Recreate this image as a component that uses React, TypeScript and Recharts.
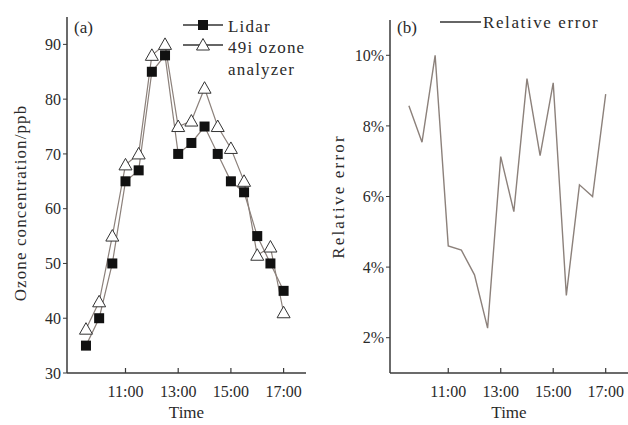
import React from 'react';
import { LineChart, Line, XAxis, YAxis } from 'recharts';

// half-hourly samples, 9:30 to 17:00
const hours = [9.5, 10, 10.5, 11, 11.5, 12, 12.5, 13, 13.5, 14, 14.5, 15, 15.5, 16, 16.5, 17];
const lidar = [35, 40, 50, 65, 67, 85, 88, 70, 72, 75, 70, 65, 63, 55, 50, 45];
const analyzer = [38, 43, 55, 68, 70, 88, 90, 75, 76, 82, 75, 71, 65, 51.5, 53, 41];
const relError = [8.57, 7.54, 10.0, 4.6, 4.48, 3.78, 2.27, 7.13, 5.57, 9.34, 7.16, 9.22, 3.2, 6.33, 6.0, 8.9];

const timeTicks = [11, 13, 15, 17];
const ozoneTicks = [30, 40, 50, 60, 70, 80, 90];
const errorTicks = [2, 4, 6, 8, 10];

const ozoneData = hours.map((h, i) => ({ h, lidar: lidar[i], analyzer: analyzer[i] }));
const errorData = hours.map((h, i) => ({ h, err: relError[i] }));

const FONT = '"Liberation Serif", "Times New Roman", serif';
const TEXT = '#2a2a2a';
const AXIS = '#3a3a3a';
const LINE = '#8c817b';
const X_DOMAIN: [number, number] = [8.78, 17.85];

const TimeTick = (props: any) => {
    const { x, y, payload } = props;
    return (
        <g>
            <line x1={x} y1={y} x2={x} y2={y - 5} stroke={AXIS} strokeWidth={1.2} />
            <text x={x} y={y + 24} textAnchor="middle" fontSize={16} fill={TEXT} fontFamily={FONT}>
                {`${payload.value}:00`}
            </text>
        </g>
    );
};

const yTitle = (text: string, x: number, dy: number, spacing: number) => (props: any) => {
    const vb = props.viewBox;
    const cy = vb.y + vb.height / 2 + dy;
    return (
        <text
            x={x}
            y={cy}
            transform={`rotate(-90, ${x}, ${cy})`}
            textAnchor="middle"
            dominantBaseline="central"
            fontSize={17}
            letterSpacing={spacing}
            fill={TEXT}
            fontFamily={FONT}
        >
            {text}
        </text>
    );
};

const xTitle = (props: any) => {
    const vb = props.viewBox;
    return (
        <text x={vb.x + vb.width / 2} y={418} textAnchor="middle" fontSize={17} fill={TEXT} fontFamily={FONT}>
            Time
        </text>
    );
};

const SquareDot = (props: any) => {
    const { cx, cy, index } = props;
    return <rect key={`sq-${index}`} x={cx - 5} y={cy - 5} width={10} height={10} fill="#111" />;
};

const TriangleDot = (props: any) => {
    const { cx, cy, index } = props;
    return (
        <polygon
            key={`tri-${index}`}
            points={`${cx},${cy - 6.5} ${cx + 6.5},${cy + 5} ${cx - 6.5},${cy + 5}`}
            fill="#fff"
            stroke="#333"
            strokeWidth={1}
        />
    );
};

const tickStyle = { fontSize: 16, fill: TEXT, fontFamily: FONT };

const App: React.FC = () => {
    return (
        <div style={{ position: 'absolute', left: 0, top: 0, width: 628, height: 425, background: '#fff' }}>
            <div style={{ position: 'absolute', left: 0, top: 0 }}>
                <LineChart width={320} height={425} data={ozoneData} margin={{ top: 17, right: 14, bottom: 0, left: 0 }}>
                    <XAxis
                        dataKey="h"
                        type="number"
                        domain={X_DOMAIN}
                        ticks={timeTicks}
                        height={52}
                        tickSize={0}
                        tickMargin={0}
                        tickLine={false}
                        tick={<TimeTick />}
                        axisLine={{ stroke: AXIS, strokeWidth: 1.5 }}
                        label={xTitle}
                    />
                    <YAxis
                        width={67}
                        domain={[30, 95]}
                        ticks={ozoneTicks}
                        tickSize={4}
                        tickMargin={2}
                        tick={tickStyle}
                        tickLine={{ stroke: AXIS }}
                        axisLine={{ stroke: AXIS, strokeWidth: 1.5 }}
                        label={yTitle('Ozone concentration/ppb', 20, 8, 1.1)}
                    />
                    <Line
                        dataKey="analyzer"
                        stroke={LINE}
                        strokeWidth={1.2}
                        dot={TriangleDot}
                        activeDot={false}
                        isAnimationActive={false}
                    />
                    <Line
                        dataKey="lidar"
                        stroke={LINE}
                        strokeWidth={1.2}
                        dot={SquareDot}
                        activeDot={false}
                        isAnimationActive={false}
                    />
                </LineChart>
            </div>
            <div style={{ position: 'absolute', left: 320, top: 0 }}>
                <LineChart width={308} height={425} data={errorData} margin={{ top: 20, right: 0, bottom: 0, left: 0 }}>
                    <XAxis
                        dataKey="h"
                        type="number"
                        domain={X_DOMAIN}
                        ticks={timeTicks}
                        height={52}
                        tickSize={0}
                        tickMargin={0}
                        tickLine={false}
                        tick={<TimeTick />}
                        axisLine={{ stroke: AXIS, strokeWidth: 1.5 }}
                        label={xTitle}
                    />
                    <YAxis
                        width={70}
                        domain={[1, 11]}
                        ticks={errorTicks}
                        tickFormatter={(v) => `${v}%`}
                        tickSize={4}
                        tickMargin={2}
                        tick={tickStyle}
                        tickLine={{ stroke: AXIS }}
                        axisLine={{ stroke: AXIS, strokeWidth: 1.5 }}
                        label={yTitle('Relative error', 18, 0, 2.2)}
                    />
                    <Line
                        dataKey="err"
                        stroke={LINE}
                        strokeWidth={1.4}
                        dot={false}
                        activeDot={false}
                        isAnimationActive={false}
                    />
                </LineChart>
            </div>
            <svg
                width={628}
                height={90}
                style={{ position: 'absolute', left: 0, top: 0, pointerEvents: 'none' }}
                fontFamily={FONT}
                fontSize={17}
                fill={TEXT}
            >
                <text x={74} y={33}>(a)</text>
                <line x1={183} y1={25} x2={223} y2={25} stroke="#333" strokeWidth={1.3} />
                <rect x={198} y={20} width={10} height={10} fill="#111" />
                <text x={228} y={32} letterSpacing={1.2}>Lidar</text>
                <line x1={183} y1={45} x2={223} y2={45} stroke="#333" strokeWidth={1.3} />
                <polygon points="203,38.5 209.5,50 196.5,50" fill="#fff" stroke="#333" />
                <text x={228} y={53} letterSpacing={1.2}>49i ozone</text>
                <text x={228} y={75} letterSpacing={1.2}>analyzer</text>

                <text x={397} y={33}>(b)</text>
                <line x1={440} y1={22} x2={481} y2={22} stroke="#333" strokeWidth={1.3} />
                <text x={483} y={28} letterSpacing={1.6}>Relative error</text>
            </svg>
        </div>
    );
};

export default App;
